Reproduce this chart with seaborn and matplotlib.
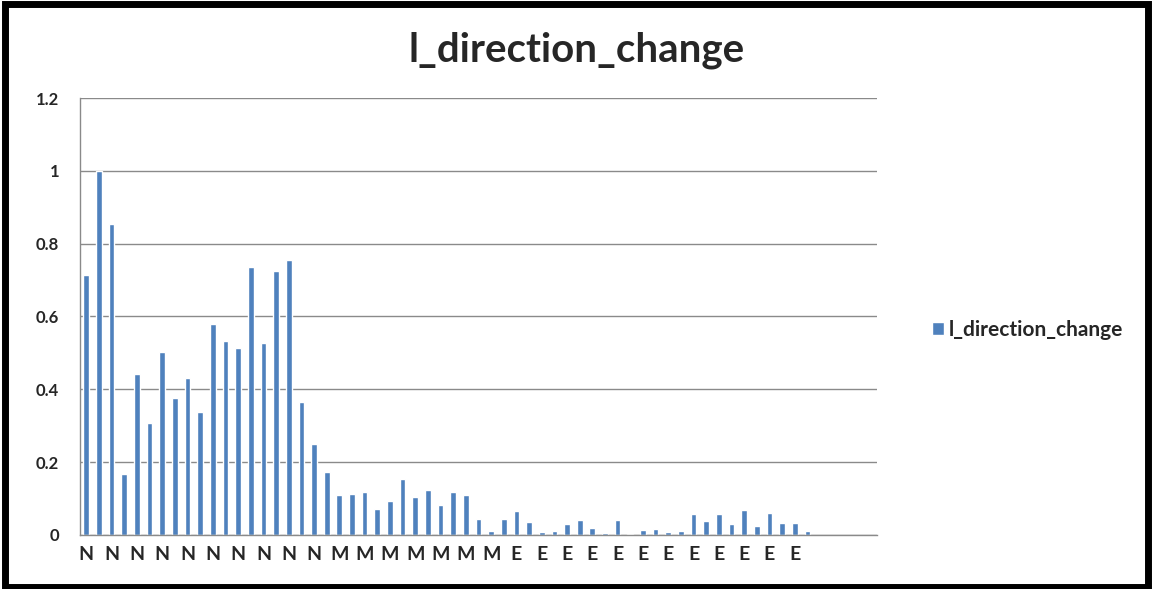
import numpy as np
import pandas as pd
import seaborn as sns
import matplotlib.pyplot as plt
from matplotlib.patches import Rectangle

# values (63 categories, last ones empty)
series_name = 'l_direction_change'
values = [0.714, 1.0, 0.854, 0.167, 0.442, 0.307, 0.502, 0.377, 0.432, 0.339,
          0.580, 0.533, 0.513, 0.735, 0.527, 0.725, 0.755, 0.366, 0.249, 0.172,
          0.111, 0.113, 0.118, 0.071, 0.093, 0.153, 0.105, 0.123, 0.082, 0.117,
          0.110, 0.043, 0.011, 0.043, 0.067, 0.035, 0.008, 0.011, 0.030, 0.040,
          0.019, 0.006, 0.041, 0.002, 0.014, 0.016, 0.009, 0.012, 0.059, 0.038,
          0.059, 0.029, 0.068, 0.025, 0.061, 0.034, 0.034, 0.012]
groups = ['N'] * 20 + ['M'] * 14 + ['E'] * 24 + [''] * 5
y_ticks = [0, 0.2, 0.4, 0.6, 0.8, 1.0, 1.2]
y_tick_labels = ['0', '0.2', '0.4', '0.6', '0.8', '1', '1.2']

n = len(groups)
df = pd.DataFrame({'pos': [str(i) for i in range(n)],
                   'value': values + [np.nan] * (n - len(values))})

sns.set_style('white')
plt.rcParams['font.family'] = ['Lato', 'DejaVu Sans']

fig = plt.figure(figsize=(11.53, 5.89), dpi=100)
ax = fig.add_axes([0.0694, 0.0917, 0.6912, 0.7419])

sns.barplot(data=df, x='pos', y='value', order=df['pos'], color='#4F81BD',
            saturation=1, width=0.45, ax=ax, label=series_name)

ax.set_xlim(-0.5, n - 0.5)
ax.set_ylim(0, 1.2)
ax.set_yticks(y_ticks)
ax.set_yticklabels(y_tick_labels, fontsize=12, fontweight='bold')
ax.yaxis.grid(True, color='#8a8a8a', linewidth=1)
ax.set_axisbelow(True)

ax.set_xticks(range(0, n, 2))
ax.set_xticklabels(groups[::2], fontsize=14, fontweight='bold')
ax.set_xticks(np.arange(-0.5, n, 1), minor=True)
ax.tick_params(axis='x', which='major', length=0, pad=8)
ax.tick_params(axis='x', which='minor', length=4, color='#8a8a8a', direction='out')
ax.tick_params(axis='y', length=5, color='#8a8a8a', direction='out', pad=10)
ax.set_xlabel('')
ax.set_ylabel('')

for side in ['top', 'right']:
    ax.spines[side].set_visible(False)
for side in ['left', 'bottom']:
    ax.spines[side].set_color('#8a8a8a')
    ax.spines[side].set_linewidth(1)

fig.suptitle(series_name, x=0.5, y=0.947, fontsize=29, fontweight='bold')

leg = ax.legend(loc='center left', bbox_to_anchor=(1.045, 0.47), frameon=False,
                handlelength=0.6, handleheight=0.6, handletextpad=0.2,
                prop={'size': 15, 'weight': 'bold'})

# black frame around the picture
fig.patches.append(Rectangle((0.004, 0.004), 0.992, 0.99, transform=fig.transFigure,
                             fill=False, edgecolor='black', linewidth=5))

fig.savefig('out.png', dpi=100)
